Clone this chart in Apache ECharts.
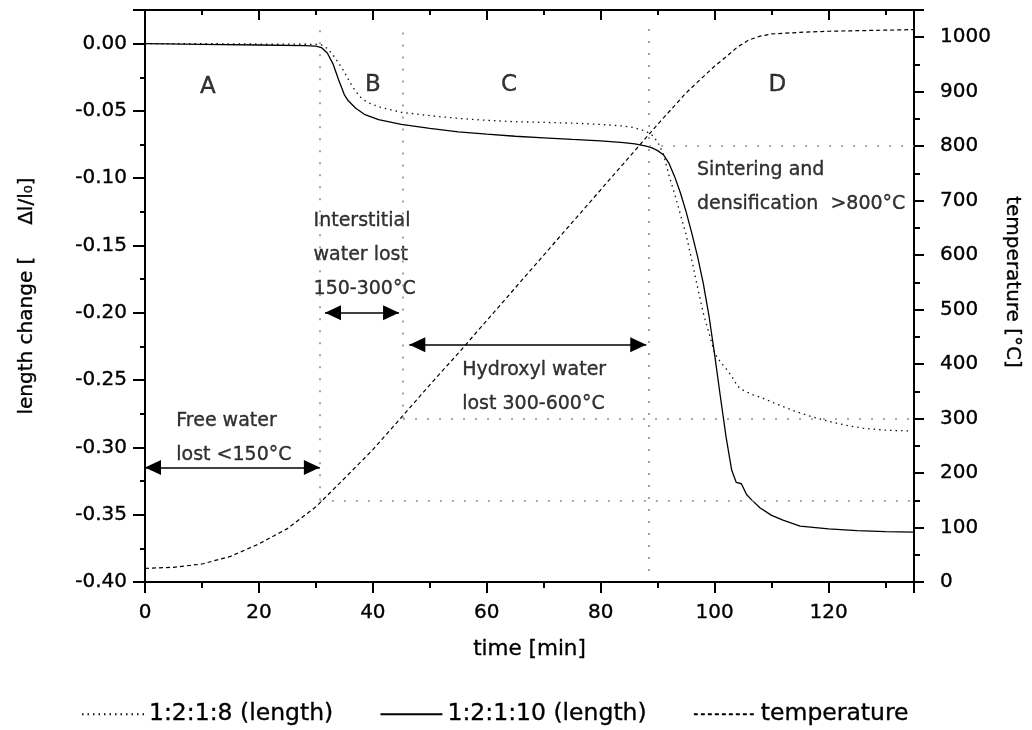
<!DOCTYPE html>
<html>
	<head>
		<meta charset="utf-8">
		<title>length change and temperature</title>
		<style>
			html, body { margin: 0; padding: 0; background: #fff; }
			#main { width: 1032px; height: 730px; }
		</style>
	</head>
	<body>
		<div id="main"></div>
		<script src="https://cdn.jsdelivr.net/npm/echarts@6/dist/echarts.min.js"></script>
		<script type="text/javascript">
			// values
			var time8 = [0, 10, 20, 30, 31, 32, 33, 34, 35, 36, 37, 38, 39, 41, 43, 45, 50, 55, 60, 65, 70, 76, 80, 84, 86, 88, 89, 90, 91, 92, 93, 94, 95, 96, 97, 98, 99, 100, 101, 102, 103, 104, 105, 106.5, 108.5, 111, 114.3, 117, 120.2, 123, 126, 130, 134];
			var length8 = [0, 0, -0.0003, -0.0005, -0.001, -0.0035, -0.0084, -0.0145, -0.021, -0.029, -0.0355, -0.0405, -0.0435, -0.0468, -0.049, -0.051, -0.0535, -0.0555, -0.057, -0.058, -0.0585, -0.0592, -0.060, -0.0612, -0.0625, -0.0652, -0.068, -0.073, -0.082, -0.098, -0.112, -0.127, -0.142, -0.161, -0.181, -0.200, -0.215, -0.230, -0.2365, -0.2415, -0.247, -0.2545, -0.2575, -0.2605, -0.2635, -0.268, -0.2734, -0.2772, -0.2808, -0.2835, -0.2857, -0.2872, -0.2877];

			var time10 = [0, 10, 20, 28, 30, 31, 32, 33, 34, 35, 35.6, 37, 38.5, 41, 45, 50, 55, 60, 65, 70, 75, 80, 84, 86, 88, 89, 90, 91, 92, 93, 94, 95, 96, 97, 98, 99, 100, 101, 102, 103, 103.8, 104.7, 105.6, 106.5, 108, 110, 112, 115, 120, 125, 130, 135];
			var length10 = [0, -0.0005, -0.001, -0.0015, -0.0018, -0.003, -0.007, -0.015, -0.027, -0.038, -0.042, -0.048, -0.0525, -0.0565, -0.060, -0.063, -0.0655, -0.0672, -0.0688, -0.070, -0.0712, -0.0722, -0.0735, -0.0745, -0.0762, -0.0775, -0.0795, -0.0825, -0.089, -0.099, -0.111, -0.125, -0.141, -0.158, -0.178, -0.202, -0.231, -0.262, -0.292, -0.317, -0.326, -0.327, -0.335, -0.339, -0.345, -0.3505, -0.354, -0.3585, -0.3605, -0.3618, -0.3625, -0.363];

			var timeTemp = [0, 5, 10, 15, 20, 25, 30, 35, 40, 45, 50, 55, 60, 65, 70, 75, 80, 85, 90, 95, 100, 102, 104, 106, 108, 110, 115, 120, 125, 130, 135];
			var temperature = [25, 27, 33, 47, 70, 98, 138, 190, 243, 302, 362, 420, 480, 540, 600, 660, 720, 780, 840, 898, 947, 964, 982, 995, 1002, 1006, 1009, 1011, 1012, 1013, 1014];

			// dotted guide lines (time, temperature)
			var guideTimes = [30.7, 45.3, 88.5];
			var guideTemps = [150, 300, 800];
			var guideBottoms = [150, 300, 20];
			var guideTop = 1018;

			// double arrows (tips)
			var arrowFrom = [0, 31.6, 46.4, 89.2];
			var arrowTo = [30.7, 44.6, 88.0, 135.5];
			var arrowY = [-0.315, -0.200, -0.2238, -0.0079];

			// text notes
			var noteText = ['A', 'B', 'C', 'D', 'Free water\nlost <150°C', 'Interstitial\nwater lost\n150-300°C', 'Hydroxyl water\nlost 300-600°C', 'Sintering and\ndensification  >800°C'];
			var noteX = [11.05, 40, 63.9, 111, 5.4, 29.5, 55.6, 96.8];
			var noteY = [-0.032, -0.031, -0.031, -0.031, -0.293, -0.157, -0.2554, -0.1062];

			var legendNames = ['1:2:1:8 (length)', '1:2:1:10 (length)', 'temperature'];

			var FONT = 'DejaVu Sans';
			var black = '#000';
			// thin outline so the text reads as dark as the scanned figure
			var ink = {textBorderColor: black, textBorderWidth: 0.35};

			function zip(xs, ys){
				var arr = [];
				for(var i = 0; i < xs.length; i++){
					arr.push([xs[i], ys[i]]);
				}
				return arr;
			}

			function guideLines(){
				var arr = [];
				for(var i = 0; i < guideTimes.length; i++){
					arr.push([{coord: [guideTimes[i], guideBottoms[i]]}, {coord: [guideTimes[i], guideTop]}]);
					arr.push([{coord: [guideTimes[i], guideTemps[i]]}, {coord: [135, guideTemps[i]]}]);
				}
				return arr;
			}

			function arrowLines(){
				var arr = [];
				for(var i = 0; i < arrowY.length; i++){
					arr.push([{coord: [arrowFrom[i], arrowY[i]]}, {coord: [arrowTo[i], arrowY[i]]}]);
				}
				return arr;
			}

			function notes(){
				var arr = [];
				for(var i = 0; i < noteText.length; i++){
					var single = noteText[i].length === 1;
					arr.push({
						value: [noteX[i], noteY[i]],
						name: noteText[i],
						label: {
							show: true,
							position: single ? 'inside' : 'right',
							distance: 0,
							color: black,
							fontFamily: FONT,
							fontSize: single ? 23 : 19,
							lineHeight: 34,
							textBorderColor: black,
							textBorderWidth: 0.35,
							formatter: noteText[i]
						}
					});
				}
				return arr;
			}

			function stepFormatter(step, digits){
				return function(v){
					var k = Math.round(v / step);
					if(Math.abs(v - k * step) > step * 1e-4){
						return '';
					}
					if(Math.abs(v) < 1e-9){
						v = 0;
					}
					return digits ? v.toFixed(digits) : String(Math.round(v));
				};
			}

			function textStyle(size, extra){
				var s = {fontFamily: FONT, fontSize: size, color: black, textBorderColor: ink.textBorderColor, textBorderWidth: ink.textBorderWidth};
				for(var k in extra){
					s[k] = extra[k];
				}
				return s;
			}

			var tickLine = {color: black, width: 2};

			function minorAxis(extra){
				var ax = {
					type: 'value',
					axisLine: {show: false, onZero: false},
					axisLabel: {show: false},
					splitLine: {show: false}
				};
				for(var k in extra){
					ax[k] = extra[k];
				}
				return ax;
			}

			var myChart = echarts.init(document.getElementById('main'), null, {renderer: 'canvas'});
			var option = {
				animation: false,
				backgroundColor: '#fff',
				grid: {left: 145, right: 118, top: 10, bottom: 148, containLabel: false, outerBoundsMode: 'none'},
				legend: {
					data: legendNames,
					left: 76,
					top: 697,
					itemWidth: 62,
					itemHeight: 14,
					itemGap: 46,
					itemStyle: {opacity: 0},
					textStyle: textStyle(23.5)
				},
				xAxis: [
					{
						type: 'value', min: 0, max: 135, interval: 20, position: 'bottom',
						axisLine: {show: true, onZero: false, lineStyle: tickLine},
						axisTick: {show: true, inside: false, length: 11, lineStyle: tickLine},
						axisLabel: textStyle(20, {margin: 21, formatter: stepFormatter(20, 0)}),
						splitLine: {show: false},
						name: 'time [min]', nameLocation: 'middle', nameGap: 56,
						nameTextStyle: textStyle(21.5)
					},
					minorAxis({min: 0, max: 135, interval: 10, position: 'bottom',
						axisTick: {show: true, inside: false, length: 6, lineStyle: tickLine}}),
					{
						type: 'value', min: 0, max: 135, interval: 20, position: 'top',
						axisLine: {show: true, onZero: false, lineStyle: tickLine},
						axisTick: {show: true, inside: true, length: 10, lineStyle: tickLine},
						axisLabel: {show: false},
						splitLine: {show: false}
					},
					minorAxis({min: 0, max: 135, interval: 10, position: 'top',
						axisTick: {show: true, inside: true, length: 5, lineStyle: tickLine}})
				],
				yAxis: [
					{
						type: 'value', min: -0.4, max: 0.025, interval: 0.05, position: 'left',
						axisLine: {show: true, onZero: false, lineStyle: tickLine},
						axisTick: {show: true, inside: false, length: 12, lineStyle: tickLine},
						axisLabel: textStyle(20, {margin: 18, formatter: stepFormatter(0.05, 2)}),
						splitLine: {show: false},
						name: 'length change [     Δl/l₀]', nameLocation: 'middle', nameRotate: 90, nameGap: 108,
						nameTextStyle: textStyle(20)
					},
					minorAxis({min: -0.4, max: 0.025, interval: 0.025, position: 'left',
						axisTick: {show: true, inside: false, length: 5, lineStyle: tickLine}}),
					{
						type: 'value', min: 0, max: 1050, interval: 100, position: 'right',
						axisLine: {show: true, onZero: false, lineStyle: tickLine},
						axisTick: {show: true, inside: false, length: 10, lineStyle: tickLine},
						axisLabel: textStyle(20, {margin: 26, formatter: stepFormatter(100, 0)}),
						splitLine: {show: false},
						name: 'temperature [°C]', nameLocation: 'middle', nameRotate: -90, nameGap: 83,
						nameTextStyle: textStyle(20, {padding: [0, 28, 0, 0]})
					},
					minorAxis({min: 0, max: 1050, interval: 50, position: 'right',
						axisTick: {show: true, inside: false, length: 6, lineStyle: tickLine}})
				],
				series: [
					{
						name: legendNames[0], type: 'line', xAxisIndex: 0, yAxisIndex: 0,
						data: zip(time8, length8), symbol: 'none', showSymbol: false, z: 3,
						lineStyle: {color: '#111', width: 1.3, type: [1.5, 4]},
						itemStyle: {color: '#111'}
					},
					{
						name: legendNames[1], type: 'line', xAxisIndex: 0, yAxisIndex: 0,
						data: zip(time10, length10), symbol: 'none', showSymbol: false, z: 3,
						lineStyle: {color: black, width: 1.3, type: 'solid'},
						itemStyle: {color: black}
					},
					{
						name: legendNames[2], type: 'line', xAxisIndex: 0, yAxisIndex: 2,
						data: zip(timeTemp, temperature), symbol: 'none', showSymbol: false, z: 3,
						lineStyle: {color: black, width: 1.2, type: [4, 3]},
						itemStyle: {color: black}
					},
					{
						name: 'guides', type: 'line', xAxisIndex: 0, yAxisIndex: 2, data: [], clip: false,
						markLine: {
							silent: true, symbol: ['none', 'none'], label: {show: false},
							lineStyle: {color: '#8a8a8a', width: 1.6, type: [2, 10]},
							data: guideLines()
						}
					},
					{
						name: 'arrows', type: 'line', xAxisIndex: 0, yAxisIndex: 0, data: [], clip: false,
						markLine: {
							silent: true, symbol: ['triangle', 'triangle'], symbolSize: [15, 16],
							symbolOffset: [[0, 8], [0, 8]],
							label: {show: false},
							lineStyle: {color: black, width: 1.5, type: 'solid'},
							itemStyle: {color: black},
							data: arrowLines()
						}
					},
					{
						name: 'notes', type: 'scatter', xAxisIndex: 0, yAxisIndex: 0, clip: false,
						symbolSize: 1, silent: true,
						itemStyle: {color: 'rgba(0,0,0,0)'},
						data: notes()
					}
				]
			};
			myChart.setOption(option);
		</script>
	</body>
</html>
